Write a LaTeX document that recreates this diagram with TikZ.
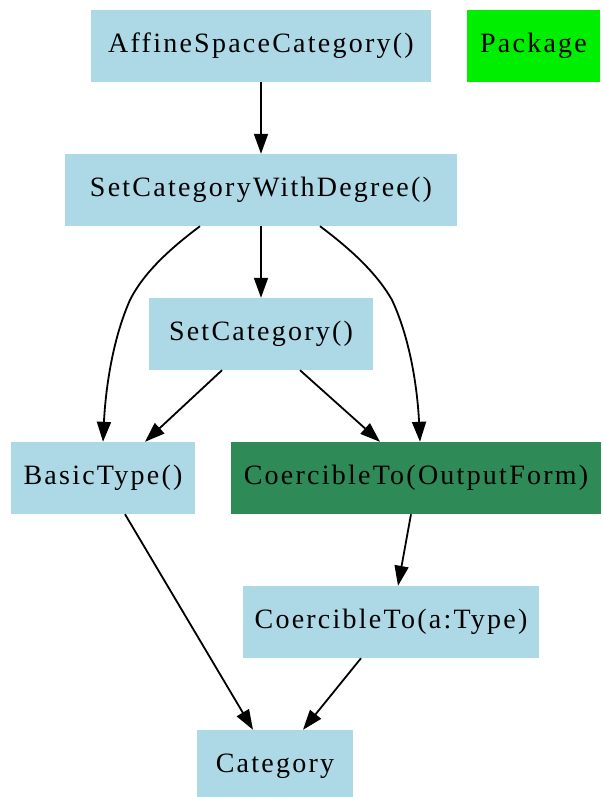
\documentclass[tikz,border=0pt]{standalone}
\usepackage{fontspec}
\setmainfont[LetterSpace=8]{Liberation Serif}
\usetikzlibrary{arrows.meta}
\definecolor{lblue}{HTML}{ADD8E6}
\definecolor{sgreen}{HTML}{2E8B57}
\definecolor{pgreen}{HTML}{00EE00}
\begin{document}
\begin{tikzpicture}[x=1pt,y=1pt,
  box/.style={rectangle, fill=lblue, minimum height=72pt, inner sep=0pt,
     font=\fontsize{28}{34}\selectfont},
  edge/.style={line width=1.8pt, -{Triangle[length=20pt,width=14pt]}}]
\useasboundingbox (0,0) rectangle (602,-797);
\node[box, minimum width=340pt] (asc) at (261,-46) {AffineSpaceCategory()};
\node[box, minimum width=133pt, fill=pgreen] (pkg) at (533.5,-46) {Package};
\node[box, minimum width=392pt] (scwd) at (261,-190) {SetCategoryWithDegree()};
\node[box, minimum width=224pt] (sc) at (261,-334) {SetCategory()};
\node[box, minimum width=184pt] (bt) at (103,-478) {BasicType()};
\node[box, minimum width=370pt, fill=sgreen] (cof) at (416,-478) {CoercibleTo(OutputForm)};
\node[box, minimum width=296pt] (cta) at (391,-622) {CoercibleTo(a:Type)};
\node[box, minimum width=156pt] (cat) at (275,-766) {Category};

\draw[edge] (asc) -- (scwd);
\draw[edge] (scwd) -- (sc);
\draw[edge] ([xshift=-61pt]scwd.south) .. controls (175,-245) and (145,-270) .. (130,-300)
   .. controls (110,-345) and (105,-400) .. (bt.north);
\draw[edge] ([xshift=59pt]scwd.south) .. controls (345,-245) and (375,-270) .. (392,-300)
   .. controls (413,-345) and (418,-400) .. ([xshift=4pt]cof.north);
\draw[edge] ([xshift=-39pt]sc.south) -- ([xshift=42pt]bt.north);
\draw[edge] ([xshift=39pt]sc.south) -- ([xshift=-36pt]cof.north);
\draw[edge] ([xshift=22pt]bt.south) -- ([xshift=-22pt]cat.north);
\draw[edge] ([xshift=-5pt]cof.south) -- ([xshift=7pt]cta.north);
\draw[edge] ([xshift=-30pt]cta.south) -- ([xshift=28pt]cat.north);
\end{tikzpicture}
\end{document}
